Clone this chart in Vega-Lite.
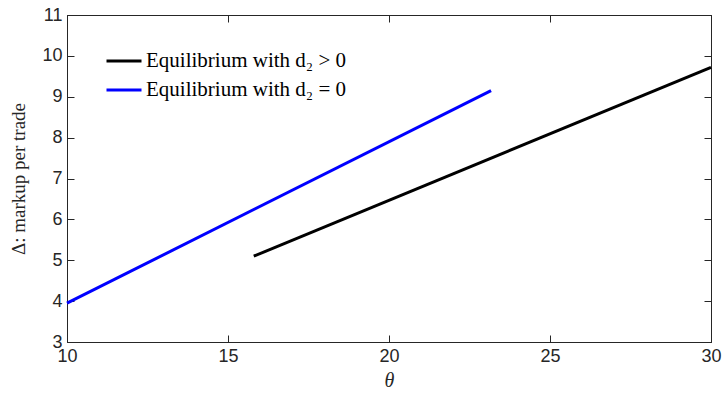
{
  "$schema": "https://vega.github.io/schema/vega-lite/v6.json",
  "width": 644,
  "height": 327,
  "autosize": {"type": "none"},
  "padding": {"left": 67, "top": 15, "right": 12, "bottom": 52},
  "background": "white",
  "config": {
    "view": {"stroke": "#262626", "strokeWidth": 1},
    "axis": {
      "grid": false,
      "domainColor": "#262626",
      "tickColor": "#262626",
      "tickSize": -7,
      "labelFont": "Liberation Sans",
      "labelFontSize": 18,
      "labelColor": "#262626",
      "titleFont": "Liberation Serif",
      "titleFontWeight": "normal",
      "titleColor": "#262626"
    }
  },
  "data": {
    "values": [
      {"theta": 15.8, "delta": 5.1, "series": "Equilibrium with d₂ > 0"},
      {"theta": 30.0, "delta": 9.72, "series": "Equilibrium with d₂ > 0"},
      {"theta": 10.0, "delta": 3.95, "series": "Equilibrium with d₂ = 0"},
      {"theta": 23.17, "delta": 9.15, "series": "Equilibrium with d₂ = 0"}
    ]
  },
  "layer": [
    {
      "mark": {"type": "line", "strokeWidth": 3, "strokeCap": "butt"},
      "encoding": {
        "x": {
          "field": "theta", "type": "quantitative",
          "scale": {"domain": [10, 30], "nice": false, "zero": false},
          "axis": {"orient": "bottom", "values": [10, 15, 20, 25, 30], "title": "θ", "titleFontStyle": "italic", "titleFontSize": 20, "labelPadding": 12, "titlePadding": 5, "labelFlush": false}
        },
        "y": {
          "field": "delta", "type": "quantitative",
          "scale": {"domain": [3, 11], "nice": false, "zero": false},
          "axis": {"orient": "left", "values": [3, 4, 5, 6, 7, 8, 9, 10, 11], "title": "Δ: markup per trade", "titleFontSize": 19, "labelPadding": 12, "titlePadding": 13, "labelFlush": false}
        },
        "color": {
          "field": "series", "type": "nominal",
          "scale": {"domain": ["Equilibrium with d₂ > 0", "Equilibrium with d₂ = 0"], "range": ["#000000", "#0000ff"]},
          "legend": {
            "title": null,
            "orient": "none",
            "legendX": 38,
            "legendY": 27,
            "symbolType": "stroke",
            "symbolSize": 1225,
            "symbolStrokeWidth": 3,
            "labelFont": "Liberation Serif",
            "labelFontSize": 21,
            "labelColor": "#000000",
            "labelLimit": 0,
            "labelOffset": 3,
            "rowPadding": -1,
            "padding": 0
          }
        }
      }
    },
    {
      "mark": {"type": "line", "opacity": 0},
      "encoding": {
        "x": {"field": "theta", "type": "quantitative", "axis": {"orient": "top", "values": [10, 15, 20, 25, 30], "labels": false, "title": null}},
        "y": {"field": "delta", "type": "quantitative", "axis": {"orient": "right", "values": [3, 4, 5, 6, 7, 8, 9, 10, 11], "labels": false, "title": null}},
        "detail": {"field": "series"}
      }
    }
  ],
  "resolve": {"axis": {"x": "independent", "y": "independent"}}
}
